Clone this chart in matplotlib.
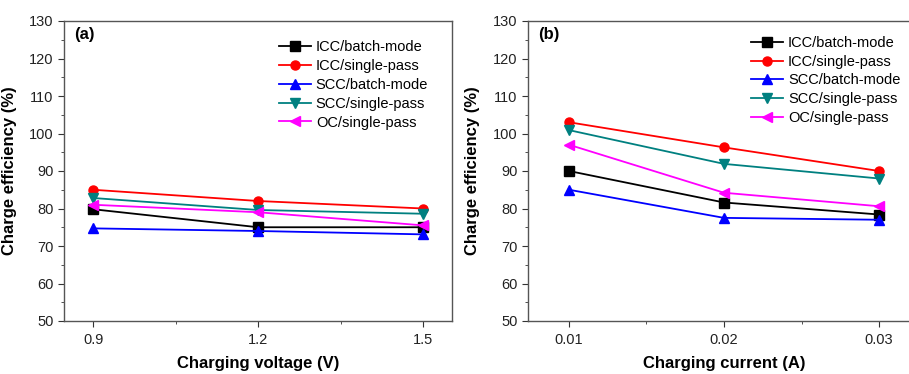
import matplotlib
matplotlib.use("Agg")
import matplotlib.pyplot as plt
from matplotlib.ticker import MultipleLocator

plt.rcParams['font.family'] = ['Liberation Sans', 'DejaVu Sans']

# data
voltage = [0.9, 1.2, 1.5]
current = [0.01, 0.02, 0.03]

labels = ["ICC/batch-mode", "ICC/single-pass", "SCC/batch-mode",
          "SCC/single-pass", "OC/single-pass"]
colors = ["black", "#ff0000", "#0000ff", "#008080", "#ff00ff"]
markers = ["s", "o", "^", "v", "<"]

# panel (a): charge efficiency vs voltage
icc_batch_v = [79.8, 75.0, 75.0]
icc_single_v = [85.0, 82.0, 80.0]
scc_batch_v = [74.7, 74.0, 73.1]
scc_single_v = [82.8, 79.6, 78.6]
oc_single_v = [81.0, 79.0, 75.5]

# panel (b): charge efficiency vs current
icc_batch_c = [90.0, 81.6, 78.4]
icc_single_c = [103.0, 96.3, 90.0]
scc_batch_c = [85.0, 77.5, 77.0]
scc_single_c = [100.9, 91.9, 88.0]
oc_single_c = [97.0, 84.2, 80.6]

series_v = [icc_batch_v, icc_single_v, scc_batch_v, scc_single_v, oc_single_v]
series_c = [icc_batch_c, icc_single_c, scc_batch_c, scc_single_c, oc_single_c]

fig = plt.figure(figsize=(9.09, 3.74), dpi=100)
ax1 = fig.add_axes([64 / 909, 53 / 374, 388 / 909, 300 / 374])
ax2 = fig.add_axes([528 / 909, 53 / 374, 392 / 909, 300 / 374])


def style(ax, x, ys, xlabel, tag, xlim, xminor, xfmt):
    for y, lab, c, m in zip(ys, labels, colors, markers):
        ax.plot(x, y, color=c, marker=m, markersize=6.5, linewidth=1.3,
                label=lab)
    ax.set_xlim(*xlim)
    ax.set_ylim(50, 130)
    ax.set_xticks(x)
    ax.set_xticklabels([xfmt.format(v) for v in x])
    ax.xaxis.set_minor_locator(MultipleLocator(xminor))
    ax.yaxis.set_major_locator(MultipleLocator(10))
    ax.yaxis.set_minor_locator(MultipleLocator(5))
    ax.tick_params(which='both', direction='out', top=False, right=False,
                   labelsize=10.5, colors='#333333', labelcolor='#222222')
    ax.tick_params(which='major', length=4)
    ax.tick_params(which='minor', length=2.5)
    ax.tick_params(axis='x', pad=5)
    for s in ax.spines.values():
        s.set_color('#555555')
        s.set_linewidth(1.0)
    ax.set_xlabel(xlabel, fontsize=12, fontweight='bold', labelpad=6)
    ax.set_ylabel("Charge efficiency (%)", fontsize=12, fontweight='bold')
    ax.text(0.025, 0.98, tag, transform=ax.transAxes, fontsize=12,
            fontweight='bold', va='top', ha='left')


style(ax1, voltage, series_v, "Charging voltage (V)", "(a)",
      (0.847, 1.5525), 0.15, "{:.1f}")
style(ax2, current, series_c, "Charging current (A)", "(b)",
      (0.007355, 0.032645), 0.005, "{:.2f}")

ax1.yaxis.set_label_coords(-0.12, 0.5)
ax2.yaxis.set_label_coords(-0.122, 0.5)

ax1.legend(loc='upper left', bbox_to_anchor=(0.54, 0.955), frameon=False,
           fontsize=10.5, handlelength=2.2, handletextpad=0.3,
           labelspacing=0.33, borderaxespad=0)
ax2.legend(loc='upper left', bbox_to_anchor=(0.555, 0.97), frameon=False,
           fontsize=10.5, handlelength=2.2, handletextpad=0.3,
           labelspacing=0.33, borderaxespad=0)

fig.savefig("out.png", dpi=100)
